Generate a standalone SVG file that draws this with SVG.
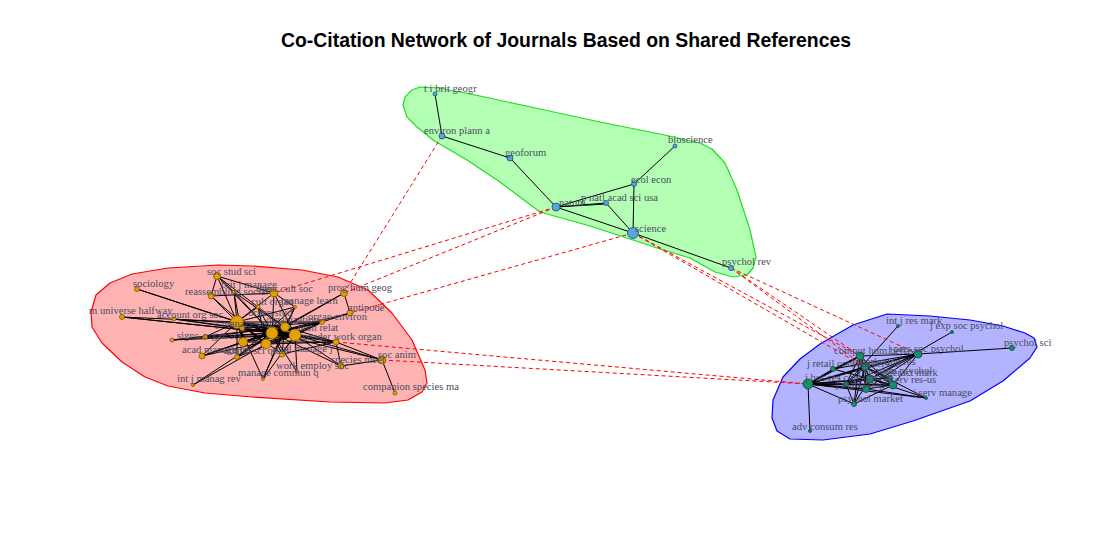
<svg xmlns="http://www.w3.org/2000/svg" width="1096" height="546" viewBox="0 0 1096 546">
<style>
.title{font-family:"Liberation Sans",Arial,sans-serif;font-size:19.4px;font-weight:bold;fill:#000;text-anchor:middle}
.lbl{font-family:"Liberation Serif","Times New Roman",serif;font-size:10.6px;fill:#4a4c62}
.e{stroke:#000;stroke-width:1;fill:none}
.eb{stroke:#000;stroke-width:1.6;fill:none}
.x{stroke:#ff0000;stroke-width:1;stroke-dasharray:4,3;fill:none}
.nr{fill:#e5a000;stroke:#7a5a00;stroke-width:0.8}
.ng{fill:#5aa6e0;stroke:#1e4a78;stroke-width:0.8}
.nb{fill:#10926a;stroke:#0a4a34;stroke-width:0.8}
</style>
<rect width="1096" height="546" fill="#ffffff"/>
<text class="title" x="566" y="47">Co-Citation Network of Journals Based on Shared References</text>

<g id="hulls">
<path id="hull-green" fill="#b3ffb3" stroke="#22dd22" stroke-width="1.2" stroke-linejoin="round" d="M403,105 L405,97 L412,90 L420,87 L440,88 L480,96 L540,109 L600,122 L660,134 L700,143 L712,149 L725,163 L737,190 L750,230 L756,257 L753,268 L747,275 L733,277 L715,272 L690,258 L660,249 L633,240 L590,226 L540,212 L500,182 L467,160 L433,140 L417,127 L407,117 Z"/>
<path id="hull-red" fill="#ffb3b3" stroke="#ff0000" stroke-width="1.2" stroke-linejoin="round" d="M91,312 L96,295 L110,283 L132,274 L168,268 L218,265 L252,266 L302,270 L338,277 L368,290 L392,313 L412,340 L425,370 L427,383 L422,392 L408,400 L385,403 L330,402 L252,397 L205,393 L168,386 L145,377 L122,362 L102,343 L92,327 Z"/>
<path id="hull-blue" fill="#b3b3ff" stroke="#0000ff" stroke-width="1.2" stroke-linejoin="round" d="M783,377 L800,359 L820,344 L853,325 L887,314 L930,316 L970,320 L1003,326 L1025,333 L1034,338 L1037,347 L1030,358 L1003,381 L970,401 L913,421 L870,434 L823,440 L790,439 L777,431 L772,418 L773,400 Z"/>
</g>

<g id="connectors">
<!-- green cluster -->
<line class="e" x1="435" y1="94" x2="442" y2="136"/>
<line class="e" x1="442" y1="136" x2="510" y2="158"/>
<line class="e" x1="510" y1="158" x2="556" y2="207"/>
<line class="e" x1="556" y1="207" x2="634" y2="184"/>
<line class="e" x1="556" y1="207" x2="606" y2="203"/>
<line class="e" x1="556" y1="207" x2="606" y2="204"/>
<line class="e" x1="556" y1="207" x2="633" y2="233"/>
<line class="e" x1="606" y1="203" x2="633" y2="233"/>
<line class="e" x1="634" y1="184" x2="633" y2="233"/>
<line class="e" x1="634" y1="184" x2="675" y2="146"/>
<line class="e" x1="633" y1="233" x2="731" y2="268"/>

<!-- red cluster -->
<line class="e" x1="237" y1="322" x2="285" y2="327"/>
<line class="eb" x1="237" y1="322" x2="272" y2="333"/>
<line class="eb" x1="237" y1="322" x2="295" y2="335"/>
<line class="e" x1="237" y1="322" x2="266" y2="344"/>
<line class="e" x1="237" y1="322" x2="243" y2="342"/>
<line class="e" x1="237" y1="322" x2="322" y2="322"/>
<line class="e" x1="237" y1="322" x2="336" y2="342"/>
<line class="e" x1="242" y1="328" x2="295" y2="335"/>
<line class="e" x1="242" y1="328" x2="322" y2="322"/>
<line class="eb" x1="285" y1="327" x2="272" y2="333"/>
<line class="e" x1="285" y1="327" x2="295" y2="335"/>
<line class="e" x1="285" y1="327" x2="243" y2="342"/>
<line class="e" x1="272" y1="333" x2="295" y2="335"/>
<line class="eb" x1="272" y1="333" x2="322" y2="322"/>
<line class="e" x1="272" y1="333" x2="336" y2="342"/>
<line class="e" x1="295" y1="335" x2="243" y2="342"/>
<line class="e" x1="295" y1="335" x2="266" y2="344"/>
<line class="eb" x1="295" y1="335" x2="322" y2="322"/>
<line class="e" x1="295" y1="335" x2="336" y2="342"/>
<line class="e" x1="266" y1="344" x2="322" y2="322"/>
<line class="e" x1="266" y1="344" x2="336" y2="342"/>
<line class="e" x1="243" y1="342" x2="322" y2="322"/>
<line class="e" x1="243" y1="342" x2="336" y2="342"/>
<line class="e" x1="274" y1="293" x2="237" y2="322"/>
<line class="e" x1="274" y1="293" x2="272" y2="333"/>
<line class="e" x1="274" y1="293" x2="295" y2="335"/>
<line class="e" x1="274" y1="293" x2="295" y2="307"/>
<line class="e" x1="137" y1="289" x2="237" y2="322"/>
<line class="e" x1="137" y1="289" x2="272" y2="333"/>
<line class="e" x1="122" y1="317" x2="237" y2="322"/>
<line class="e" x1="122" y1="317" x2="272" y2="333"/>
<line class="e" x1="122" y1="317" x2="295" y2="335"/>
<line class="e" x1="174" y1="319" x2="272" y2="333"/>
<line class="e" x1="174" y1="319" x2="295" y2="335"/>
<line class="e" x1="174" y1="319" x2="285" y2="327"/>
<line class="e" x1="217" y1="276" x2="211" y2="296"/>
<line class="e" x1="217" y1="276" x2="234" y2="292"/>
<line class="e" x1="217" y1="276" x2="274" y2="293"/>
<line class="e" x1="217" y1="276" x2="237" y2="322"/>
<line class="e" x1="217" y1="276" x2="272" y2="333"/>
<line class="e" x1="217" y1="276" x2="295" y2="335"/>
<line class="e" x1="211" y1="296" x2="237" y2="322"/>
<line class="e" x1="211" y1="296" x2="274" y2="293"/>
<line class="e" x1="211" y1="296" x2="266" y2="344"/>
<line class="e" x1="234" y1="292" x2="237" y2="322"/>
<line class="e" x1="234" y1="292" x2="272" y2="333"/>
<line class="e" x1="234" y1="292" x2="295" y2="335"/>
<line class="e" x1="234" y1="292" x2="243" y2="342"/>
<line class="e" x1="344" y1="293" x2="350" y2="313"/>
<line class="e" x1="344" y1="293" x2="285" y2="327"/>
<line class="e" x1="344" y1="293" x2="272" y2="333"/>
<line class="e" x1="258" y1="307" x2="237" y2="322"/>
<line class="e" x1="258" y1="307" x2="266" y2="344"/>
<line class="e" x1="258" y1="307" x2="272" y2="333"/>
<line class="e" x1="295" y1="307" x2="237" y2="322"/>
<line class="e" x1="295" y1="307" x2="285" y2="327"/>
<line class="e" x1="295" y1="307" x2="237" y2="357"/>
<line class="e" x1="295" y1="307" x2="263" y2="379"/>
<line class="e" x1="350" y1="313" x2="322" y2="322"/>
<line class="e" x1="350" y1="313" x2="272" y2="333"/>
<line class="e" x1="172" y1="340" x2="272" y2="333"/>
<line class="e" x1="172" y1="340" x2="295" y2="335"/>
<line class="e" x1="172" y1="340" x2="285" y2="327"/>
<line class="e" x1="205" y1="337" x2="285" y2="327"/>
<line class="e" x1="205" y1="337" x2="272" y2="333"/>
<line class="e" x1="205" y1="337" x2="295" y2="335"/>
<line class="e" x1="205" y1="337" x2="237" y2="322"/>
<line class="e" x1="336" y1="342" x2="285" y2="327"/>
<line class="e" x1="336" y1="342" x2="382" y2="360"/>
<line class="e" x1="202" y1="356" x2="237" y2="322"/>
<line class="e" x1="202" y1="356" x2="285" y2="327"/>
<line class="e" x1="202" y1="356" x2="272" y2="333"/>
<line class="e" x1="202" y1="356" x2="295" y2="335"/>
<line class="e" x1="202" y1="356" x2="243" y2="342"/>
<line class="e" x1="237" y1="357" x2="285" y2="327"/>
<line class="e" x1="237" y1="357" x2="272" y2="333"/>
<line class="e" x1="237" y1="357" x2="295" y2="335"/>
<line class="e" x1="237" y1="357" x2="237" y2="322"/>
<line class="e" x1="282" y1="354" x2="237" y2="322"/>
<line class="e" x1="282" y1="354" x2="285" y2="327"/>
<line class="e" x1="282" y1="354" x2="272" y2="333"/>
<line class="e" x1="282" y1="354" x2="295" y2="335"/>
<line class="e" x1="282" y1="354" x2="336" y2="342"/>
<line class="e" x1="341" y1="366" x2="382" y2="360"/>
<line class="e" x1="341" y1="366" x2="272" y2="333"/>
<line class="e" x1="341" y1="366" x2="295" y2="335"/>
<line class="e" x1="341" y1="366" x2="336" y2="342"/>
<line class="e" x1="382" y1="360" x2="272" y2="333"/>
<line class="e" x1="382" y1="360" x2="295" y2="335"/>
<line class="e" x1="382" y1="360" x2="395" y2="393"/>
<line class="e" x1="297" y1="372" x2="272" y2="333"/>
<line class="e" x1="297" y1="372" x2="295" y2="335"/>
<line class="e" x1="263" y1="379" x2="285" y2="327"/>
<line class="e" x1="263" y1="379" x2="295" y2="335"/>
<line class="e" x1="263" y1="379" x2="237" y2="322"/>
<line class="e" x1="193" y1="385" x2="272" y2="333"/>
<line class="e" x1="193" y1="385" x2="266" y2="344"/>

<!-- blue cluster -->
<line class="eb" x1="808" y1="384" x2="860" y2="356"/>
<line class="eb" x1="808" y1="384" x2="865" y2="367"/>
<line class="eb" x1="808" y1="384" x2="870" y2="379"/>
<line class="e" x1="808" y1="384" x2="890" y2="378"/>
<line class="eb" x1="808" y1="384" x2="893" y2="385"/>
<line class="eb" x1="808" y1="384" x2="846" y2="384"/>
<line class="eb" x1="808" y1="384" x2="866" y2="389"/>
<line class="e" x1="808" y1="384" x2="854" y2="404"/>
<line class="e" x1="808" y1="384" x2="810" y2="431"/>
<line class="e" x1="808" y1="384" x2="833" y2="369"/>
<line class="e" x1="808" y1="384" x2="918" y2="354"/>
<line class="e" x1="808" y1="384" x2="926" y2="398"/>
<line class="e" x1="860" y1="356" x2="918" y2="354"/>
<line class="e" x1="860" y1="356" x2="865" y2="367"/>
<line class="e" x1="860" y1="356" x2="870" y2="379"/>
<line class="e" x1="860" y1="356" x2="893" y2="385"/>
<line class="e" x1="860" y1="356" x2="833" y2="369"/>
<line class="e" x1="860" y1="356" x2="866" y2="389"/>
<line class="e" x1="860" y1="356" x2="846" y2="384"/>
<line class="e" x1="860" y1="356" x2="854" y2="404"/>
<line class="e" x1="918" y1="354" x2="865" y2="367"/>
<line class="e" x1="918" y1="354" x2="870" y2="379"/>
<line class="e" x1="918" y1="354" x2="893" y2="385"/>
<line class="e" x1="918" y1="354" x2="846" y2="384"/>
<line class="e" x1="918" y1="354" x2="866" y2="389"/>
<line class="e" x1="918" y1="354" x2="1012" y2="348"/>
<line class="e" x1="918" y1="354" x2="833" y2="369"/>
<line class="e" x1="865" y1="367" x2="870" y2="379"/>
<line class="e" x1="865" y1="367" x2="893" y2="385"/>
<line class="e" x1="865" y1="367" x2="890" y2="378"/>
<line class="e" x1="865" y1="367" x2="866" y2="389"/>
<line class="e" x1="865" y1="367" x2="846" y2="384"/>
<line class="e" x1="865" y1="367" x2="854" y2="404"/>
<line class="e" x1="865" y1="367" x2="926" y2="398"/>
<line class="e" x1="870" y1="379" x2="893" y2="385"/>
<line class="e" x1="870" y1="379" x2="890" y2="378"/>
<line class="e" x1="870" y1="379" x2="866" y2="389"/>
<line class="e" x1="870" y1="379" x2="846" y2="384"/>
<line class="e" x1="870" y1="379" x2="854" y2="404"/>
<line class="e" x1="870" y1="379" x2="926" y2="398"/>
<line class="e" x1="846" y1="384" x2="893" y2="385"/>
<line class="e" x1="866" y1="389" x2="893" y2="385"/>
<line class="e" x1="866" y1="389" x2="926" y2="398"/>
<line class="e" x1="854" y1="404" x2="893" y2="385"/>
<line class="e" x1="854" y1="404" x2="846" y2="384"/>
<line class="e" x1="833" y1="369" x2="893" y2="385"/>
<line class="e" x1="898" y1="326" x2="846" y2="384"/>
<line class="e" x1="952" y1="332" x2="870" y2="379"/>

<!-- inter-cluster -->
<line class="x" x1="442" y1="136" x2="344" y2="293"/>
<line class="x" x1="556" y1="207" x2="274" y2="293"/>
<line class="x" x1="556" y1="207" x2="344" y2="293"/>
<line class="x" x1="633" y1="233" x2="350" y2="313"/>
<line class="x" x1="336" y1="342" x2="808" y2="384"/>
<line class="x" x1="382" y1="360" x2="808" y2="384"/>
<line class="x" x1="633" y1="233" x2="860" y2="356"/>
<line class="x" x1="633" y1="233" x2="865" y2="367"/>
<line class="x" x1="731" y1="268" x2="860" y2="356"/>
<line class="x" x1="731" y1="268" x2="865" y2="367"/>
<line class="x" x1="731" y1="268" x2="918" y2="354"/>
</g>

<g id="nodes-green">
<g id="n-tibritgeogr"><circle class="ng" cx="435" cy="94" r="2"/></g>
<g id="n-environplanna"><circle class="ng" cx="442" cy="136" r="3"/></g>
<g id="n-geoforum"><circle class="ng" cx="510" cy="158" r="3"/></g>
<g id="n-nature"><circle class="ng" cx="556" cy="207" r="4"/></g>
<g id="n-pnas"><circle class="ng" cx="606" cy="203" r="2.5"/></g>
<g id="n-ecolecon"><circle class="ng" cx="634" cy="184" r="2.5"/></g>
<g id="n-bioscience"><circle class="ng" cx="675" cy="146" r="2"/></g>
<g id="n-science"><circle class="ng" cx="633" cy="233" r="5.5"/></g>
<g id="n-psycholrev"><circle class="ng" cx="731" cy="268" r="2.5"/></g>
</g>

<g id="nodes-red">
<g id="n-socstudsci"><circle class="nr" cx="217" cy="276" r="3.5"/></g>
<g id="n-sociology"><circle class="nr" cx="137" cy="289" r="2.5"/></g>
<g id="n-reassembling"><circle class="nr" cx="211" cy="296" r="3"/></g>
<g id="n-britjmanage"><circle class="nr" cx="234" cy="292" r="2"/></g>
<g id="n-theorcultsoc"><circle class="nr" cx="274" cy="293" r="4"/></g>
<g id="n-proghumgeog"><circle class="nr" cx="344" cy="293" r="3.5"/></g>
<g id="n-cultorgan"><circle class="nr" cx="258" cy="307" r="2"/></g>
<g id="n-managelearn"><circle class="nr" cx="295" cy="307" r="1.5"/></g>
<g id="n-antipode"><circle class="nr" cx="350" cy="313" r="3"/></g>
<g id="n-universe"><circle class="nr" cx="122" cy="317" r="2.5"/></g>
<g id="n-accountorgsoc"><circle class="nr" cx="174" cy="319" r="2"/></g>
<g id="n-jmanagestud"><circle class="nr" cx="237" cy="322" r="6.5"/></g>
<g id="n-organenviron"><circle class="nr" cx="322" cy="322" r="2.5"/></g>
<g id="n-organstud2"><circle class="nr" cx="242" cy="328" r="2.5"/></g>
<g id="n-organization"><circle class="nr" cx="285" cy="327" r="4.5"/></g>
<g id="n-organstud"><circle class="nr" cx="272" cy="333" r="6"/></g>
<g id="n-humrelat"><circle class="nr" cx="295" cy="335" r="6"/></g>
<g id="n-signs"><circle class="nr" cx="172" cy="340" r="2"/></g>
<g id="n-organsci"><circle class="nr" cx="205" cy="337" r="2.5"/></g>
<g id="n-genderworkorgan"><circle class="nr" cx="336" cy="342" r="3"/></g>
<g id="n-hub21"><circle class="nr" cx="243" cy="342" r="4.5"/></g>
<g id="n-hub22"><circle class="nr" cx="266" cy="344" r="5"/></g>
<g id="n-acadmanagerev"><circle class="nr" cx="202" cy="356" r="3"/></g>
<g id="n-adminsciquart"><circle class="nr" cx="237" cy="357" r="2.5"/></g>
<g id="n-acadmanagej"><circle class="nr" cx="282" cy="354" r="3"/></g>
<g id="n-speciesmeet"><circle class="nr" cx="341" cy="366" r="3"/></g>
<g id="n-socanim"><circle class="nr" cx="382" cy="360" r="4"/></g>
<g id="n-workemploysoc"><circle class="nr" cx="297" cy="372" r="1.5"/></g>
<g id="n-managecommunq"><circle class="nr" cx="263" cy="379" r="1.5"/></g>
<g id="n-intjmanagrev"><circle class="nr" cx="193" cy="385" r="1.5"/></g>
<g id="n-companion"><circle class="nr" cx="395" cy="393" r="2"/></g>
</g>

<g id="nodes-blue">
<g id="n-intjresmark"><circle class="nb" cx="898" cy="326" r="1.5"/></g>
<g id="n-jexpsocpsychol"><circle class="nb" cx="952" cy="332" r="1.5"/></g>
<g id="n-psycholsci"><circle class="nb" cx="1012" cy="348" r="2.5"/></g>
<g id="n-jperssocpsychol"><circle class="nb" cx="918" cy="354" r="4"/></g>
<g id="n-computhumbehav"><circle class="nb" cx="860" cy="356" r="4"/></g>
<g id="n-jretail"><circle class="nb" cx="833" cy="369" r="2.5"/></g>
<g id="n-jmarketingres"><circle class="nb" cx="865" cy="367" r="3.5"/></g>
<g id="n-jconsumres"><circle class="nb" cx="870" cy="379" r="4"/></g>
<g id="n-jinteractmark"><circle class="nb" cx="890" cy="378" r="2.5"/></g>
<g id="n-jservres"><circle class="nb" cx="893" cy="385" r="4"/></g>
<g id="n-jbusres"><circle class="nb" cx="808" cy="384" r="5"/></g>
<g id="n-jmarketing"><circle class="nb" cx="846" cy="384" r="2.5"/></g>
<g id="n-jconsumpsychol"><circle class="nb" cx="866" cy="389" r="3.5"/></g>
<g id="n-psycholmarket"><circle class="nb" cx="854" cy="404" r="2.5"/></g>
<g id="n-jservmanage"><circle class="nb" cx="926" cy="398" r="1.5"/></g>
<g id="n-advconsumres"><circle class="nb" cx="810" cy="431" r="1.5"/></g>
</g>

<g id="labels">
<text class="lbl" x="424" y="92">t i brit geogr</text>
<text class="lbl" x="424" y="134">environ plann a</text>
<text class="lbl" x="505" y="156">geoforum</text>
<text class="lbl" x="668" y="143">bioscience</text>
<text class="lbl" x="631" y="183">ecol econ</text>
<text class="lbl" x="581" y="201">p natl acad sci usa</text>
<text class="lbl" x="559" y="206">nature</text>
<text class="lbl" x="635" y="232">science</text>
<text class="lbl" x="722" y="265">psychol rev</text>

<text class="lbl" x="207" y="275">soc stud sci</text>
<text class="lbl" x="133" y="287">sociology</text>
<text class="lbl" x="185" y="295">reassembling social</text>
<text class="lbl" x="221" y="288">brit j manage</text>
<text class="lbl" x="256" y="292">theor cult soc</text>
<text class="lbl" x="328" y="291">prog hum geog</text>
<text class="lbl" x="251" y="305">cult organ</text>
<text class="lbl" x="281" y="304">manage learn</text>
<text class="lbl" x="348" y="311">antipode</text>
<text class="lbl" x="89" y="314">m universe halfway</text>
<text class="lbl" x="157" y="318">account org soc</text>
<text class="lbl" x="308" y="320">organ environ</text>
<text class="lbl" x="248" y="316">organ stud</text>
<text class="lbl" x="266" y="323">organization</text>
<text class="lbl" x="216" y="327">j manage stud</text>
<text class="lbl" x="298" y="331">hum relat</text>
<text class="lbl" x="177" y="339">signs</text>
<text class="lbl" x="203" y="339">organ sci</text>
<text class="lbl" x="302" y="340">gender work organ</text>
<text class="lbl" x="182" y="353">acad manage rev</text>
<text class="lbl" x="224" y="354">admin sci quart</text>
<text class="lbl" x="272" y="352">acad manage j</text>
<text class="lbl" x="331" y="363">species meet</text>
<text class="lbl" x="378" y="358">soc anim</text>
<text class="lbl" x="276" y="369">work employ soc</text>
<text class="lbl" x="238" y="376">manage commun q</text>
<text class="lbl" x="177" y="382">int j manag rev</text>
<text class="lbl" x="363" y="390">companion species ma</text>

<text class="lbl" x="886" y="324">int j res mark</text>
<text class="lbl" x="930" y="329">j exp soc psychol</text>
<text class="lbl" x="1004" y="346">psychol sci</text>
<text class="lbl" x="888" y="352">j pers soc psychol</text>
<text class="lbl" x="834" y="354">comput hum behav</text>
<text class="lbl" x="807" y="367">j retail consum serv</text>
<text class="lbl" x="852" y="365">j marketing res</text>
<text class="lbl" x="858" y="374">j consum psychol</text>
<text class="lbl" x="876" y="376">j interact mark</text>
<text class="lbl" x="805" y="381">j bus res</text>
<text class="lbl" x="838" y="381">j consum res</text>
<text class="lbl" x="885" y="383">j serv res-us</text>
<text class="lbl" x="836" y="388">j marketing</text>
<text class="lbl" x="913" y="396">j serv manage</text>
<text class="lbl" x="838" y="402">psychol market</text>
<text class="lbl" x="792" y="430">adv consum res</text>
</g>
</svg>
